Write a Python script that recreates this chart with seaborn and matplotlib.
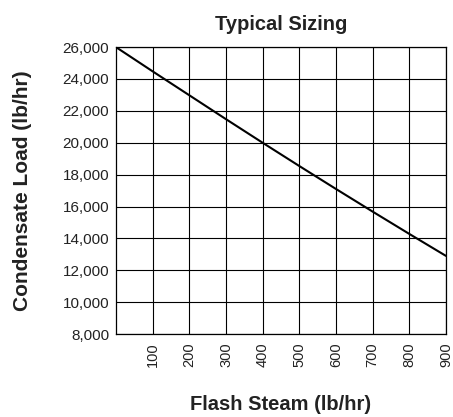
import numpy as np
import pandas as pd
import seaborn as sns
import matplotlib
matplotlib.use("Agg")
from matplotlib import pyplot as plt
from matplotlib.ticker import FuncFormatter

# values
flash_steam = [0, 100, 200, 300, 400, 500, 600, 700, 800, 900]
condensate = [26000, 24480, 22980, 21480, 20000, 18540, 17100, 15680, 14280, 12900]
x_ticks = [100, 200, 300, 400, 500, 600, 700, 800, 900]
y_ticks = [8000, 10000, 12000, 14000, 16000, 18000, 20000, 22000, 24000, 26000]

sns.set_style("white")
plt.rcParams['font.family'] = ['Liberation Sans', 'DejaVu Sans']

df = pd.DataFrame({"Flash Steam": flash_steam, "Condensate": condensate})

fig = plt.figure(figsize=(4.53, 4.17), dpi=100)
ax = fig.add_axes([0.256, 0.199, 0.7285, 0.688])

sns.lineplot(data=df, x="Flash Steam", y="Condensate", color="black",
             linewidth=1.5, ax=ax)

ax.set_xlim(0, 900)
ax.set_ylim(8000, 26000)
ax.set_xticks(x_ticks)
ax.set_yticks(y_ticks)
ax.yaxis.set_major_formatter(FuncFormatter(lambda v, p: f"{int(v):,}"))
ax.grid(True, color="black", linewidth=0.8)
for s in ax.spines.values():
    s.set_color("black")
    s.set_linewidth(0.9)
ax.tick_params(axis="x", rotation=90, labelsize=10.5, length=0, pad=6, colors="#222222")
ax.tick_params(axis="y", labelsize=11, length=0, pad=5, colors="#222222")

ax.set_title("Typical Sizing", fontsize=14.5, fontweight="bold", pad=12, color="#222222")
ax.set_xlabel("Flash Steam (lb/hr)", fontsize=14.5, fontweight="bold", labelpad=20, color="#222222")
ax.set_ylabel("Condensate Load (lb/hr)", fontsize=15, fontweight="bold", labelpad=22, color="#222222")

fig.savefig("out.png", dpi=100)
